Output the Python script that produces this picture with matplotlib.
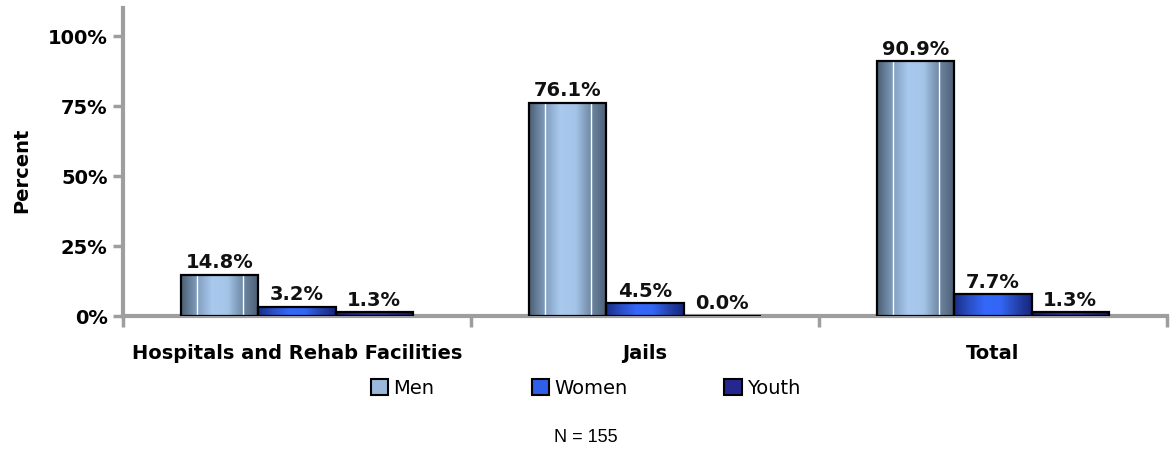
import matplotlib
matplotlib.use('Agg')
import matplotlib.pyplot as plt
import numpy as np
from matplotlib.colors import LinearSegmentedColormap
from matplotlib.patches import Patch

categories = ['Hospitals and Rehab Facilities', 'Jails', 'Total']
series_names = ['Men', 'Women', 'Youth']
men = [14.8, 76.1, 90.9]
women = [3.2, 4.5, 7.7]
youth = [1.3, 0.0, 1.3]
yticks = [0, 25, 50, 75, 100]
ytick_labels = ['0%', '25%', '50%', '75%', '100%']
note = 'N = 155'

plt.rcParams['font.family'] = ['DejaVu Sans']

grad_stops = {
    'Men': ['#4b5e73', '#7f9cbc', '#a9c9ee', '#a4c4e8', '#6e87a3', '#4b5e73'],
    'Women': ['#1a2d86', '#2a50c8', '#3468fa', '#3366f5', '#2544b0', '#17257a'],
    'Youth': ['#16166a', '#24248a', '#2e2e9c', '#2c2c98', '#20207e', '#141464'],
}
mid_colors = {'Men': '#9ab8dc', 'Women': '#2f5fe8', 'Youth': '#262690'}

fig = plt.figure(figsize=(11.71, 4.49), dpi=100)
ax = fig.add_axes([123/1171, 1-316/449, (1167-123)/1171, (316-8)/449])

x = np.arange(len(categories))
w = 0.222
offsets = [-w, 0, w]
data = [men, women, youth]

grad = np.linspace(0, 1, 256).reshape(1, -1)
for name, vals, off in zip(series_names, data, offsets):
    cmap = LinearSegmentedColormap.from_list(name, grad_stops[name])
    bars = ax.bar(x + off, vals, width=w, facecolor='none', edgecolor='black',
                  linewidth=1.6, zorder=4)
    for b, v in zip(bars, vals):
        x0 = b.get_x()
        bw, bh = b.get_width(), b.get_height()
        if bh > 0:
            im = ax.imshow(grad, cmap=cmap, aspect='auto',
                           extent=[x0, x0 + bw, 0, bh], zorder=3,
                           interpolation='bilinear')
            im.set_clip_path(b)
            if name == 'Men':
                ax.vlines([x0 + 0.2 * bw, x0 + 0.8 * bw], 0, bh,
                          colors='white', linewidth=1.0, zorder=3.5)
        ax.annotate(f'{v:.1f}%', (x0 + bw / 2, bh), xytext=(0, 2),
                    textcoords='offset points', ha='center', va='bottom',
                    fontsize=14, fontweight='bold', color='#111111', zorder=5)

ax.set_xlim(-0.5, len(categories) - 0.5)
ax.set_ylim(0, 110)

for s in ['top', 'right']:
    ax.spines[s].set_visible(False)
for s in ['left', 'bottom']:
    ax.spines[s].set_color('#9e9e9e')
    ax.spines[s].set_linewidth(3)

ax.set_yticks(yticks)
ax.set_yticklabels(ytick_labels, fontsize=14, fontweight='bold')
ax.tick_params(axis='y', length=7, width=2.5, color='#9e9e9e', pad=4)

ax.set_xticks(np.arange(len(categories) + 1) - 0.5)
ax.set_xticklabels([])
ax.set_xticks(x, minor=True)
ax.set_xticklabels(categories, minor=True, fontsize=14, fontweight='bold')
ax.tick_params(axis='x', which='major', length=8, width=2.5, color='#9e9e9e',
               direction='out')
ax.tick_params(axis='x', which='minor', length=0, pad=20)

ax.set_ylabel('Percent', fontsize=14, fontweight='bold')
ax.yaxis.set_label_coords((31 - 123) / 1044, (316 - 170) / 308)

handles = [Patch(facecolor=mid_colors[n], edgecolor='black', linewidth=1.5)
           for n in series_names]
fig.legend(handles, series_names, loc='center', bbox_to_anchor=(0.5, 1 - 388/449),
           ncol=3, frameon=False, fontsize=14, columnspacing=5.0,
           handlelength=0.9, handleheight=0.9, handletextpad=0.25)

fig.text(0.5, 1 - 437/449, note, ha='center', va='center', fontsize=13,
         family='Liberation Sans')

fig.savefig('out.png', dpi=100)
